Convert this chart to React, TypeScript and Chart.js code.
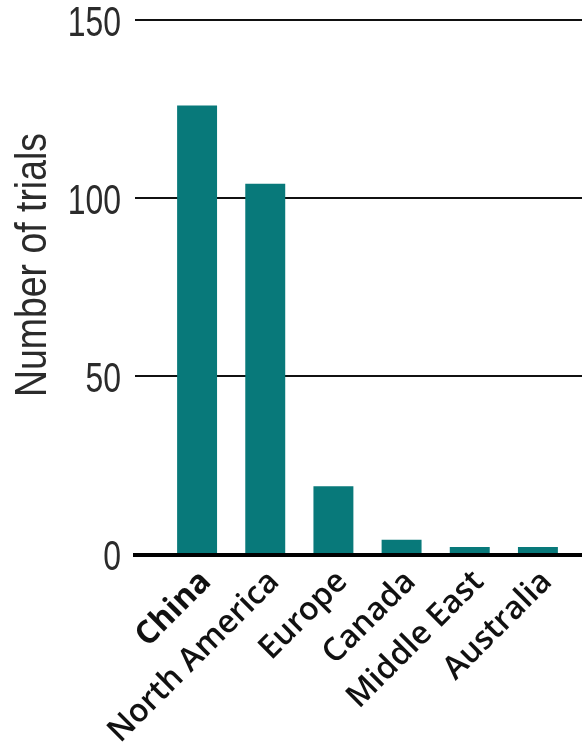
import { useEffect, useRef } from "react";
import { Chart, registerables } from "chart.js";

Chart.register(...registerables);

const categories = ["China", "North America", "Europe", "Canada", "Middle East", "Australia"];
const trialCounts = [126, 104, 19, 4, 2, 2];
const yTickValues = [0, 50, 100, 150];
const yAxisTitle = "Number of trials";

const LABEL_FONT = "'Liberation Sans', Arial, sans-serif";

const gridPlugin = {
  id: "customGrid",
  beforeDatasetsDraw(chart: any) {
    const { ctx, width } = chart;
    const y = chart.scales.y;
    ctx.save();
    ctx.strokeStyle = "#111";
    ctx.lineWidth = 2;
    y.ticks.forEach((t: any) => {
      if (t.value === 0) return;
      const py = Math.round(y.getPixelForValue(t.value));
      ctx.beginPath();
      ctx.moveTo(135, py);
      ctx.lineTo(width, py);
      ctx.stroke();
    });
    ctx.restore();
  },
  afterDatasetsDraw(chart: any) {
    const { ctx, width } = chart;
    const y = chart.scales.y;
    const py = y.getPixelForValue(0);
    ctx.save();
    ctx.strokeStyle = "#000";
    ctx.lineWidth = 4;
    ctx.beginPath();
    ctx.moveTo(133, py + 1);
    ctx.lineTo(width, py + 1);
    ctx.stroke();
    ctx.restore();
  },
  afterDraw(chart: any) {
    const { ctx } = chart;
    const y = chart.scales.y;
    // y tick labels (condensed)
    ctx.save();
    ctx.font = `42px ${LABEL_FONT}`;
    ctx.fillStyle = "#2b2b2b";
    ctx.textAlign = "right";
    ctx.textBaseline = "middle";
    y.ticks.forEach((t: any) => {
      const py = y.getPixelForValue(t.value);
      ctx.save();
      ctx.translate(121, py + 4);
      ctx.scale(0.76, 1);
      ctx.fillText(String(t.value), 0, 0);
      ctx.restore();
    });
    ctx.restore();
    // y axis title (condensed)
    ctx.save();
    ctx.translate(34, 265);
    ctx.rotate(-Math.PI / 2);
    ctx.scale(0.85, 1);
    ctx.font = `44px ${LABEL_FONT}`;
    ctx.fillStyle = "#2b2b2b";
    ctx.textAlign = "center";
    ctx.textBaseline = "middle";
    ctx.fillText(yAxisTitle, 0, 0);
    ctx.restore();
  },
};

export default function App() {
  const canvasRef = useRef<HTMLCanvasElement | null>(null);

  useEffect(() => {
    document.body.style.margin = "0";
    const canvas = canvasRef.current;
    if (!canvas) return;
    const chart = new Chart(canvas, {
      type: "bar",
      data: {
        labels: categories,
        datasets: [
          {
            data: trialCounts,
            backgroundColor: "#08797a",
            borderWidth: 0,
            barPercentage: 0.586,
            categoryPercentage: 1,
          },
        ],
      },
      options: {
        animation: false,
        responsive: true,
        maintainAspectRatio: false,
        layout: { padding: { top: 20, right: 10, left: 0, bottom: 0 } },
        plugins: {
          legend: { display: false },
          tooltip: { enabled: false },
          title: { display: false },
        },
        scales: {
          x: {
            type: "category",
            offset: true,
            grid: { display: false, drawTicks: false },
            border: { display: false },
            ticks: {
              autoSkip: false,
              maxRotation: 45,
              minRotation: 45,
              padding: 9,
              labelOffset: 9,
              color: "#111",
              font: (ctx: any) => ({
                family: "'Open Sans', 'Noto Sans', sans-serif",
                size: 32,
                weight: ctx.index === 0 ? "bold" : "600",
              }),
            },
            afterFit(scale: any) {
              scale.height = 194;
              scale.paddingLeft = 0;
              scale.paddingRight = 0;
            },
          },
          y: {
            min: 0,
            max: 150,
            grid: { display: false, drawTicks: false },
            border: { display: false },
            ticks: { display: false },
            afterBuildTicks(scale: any) {
              scale.ticks = yTickValues.map((v) => ({ value: v }));
            },
            afterFit(scale: any) {
              scale.width = 163;
              scale.paddingTop = 0;
              scale.paddingBottom = 0;
            },
          },
        },
      },
      plugins: [gridPlugin],
    });
    return () => chart.destroy();
  }, []);

  return (
    <div style={{ position: "relative", width: "582px", height: "748px", background: "#fff" }}>
      <canvas ref={canvasRef} />
    </div>
  );
}
